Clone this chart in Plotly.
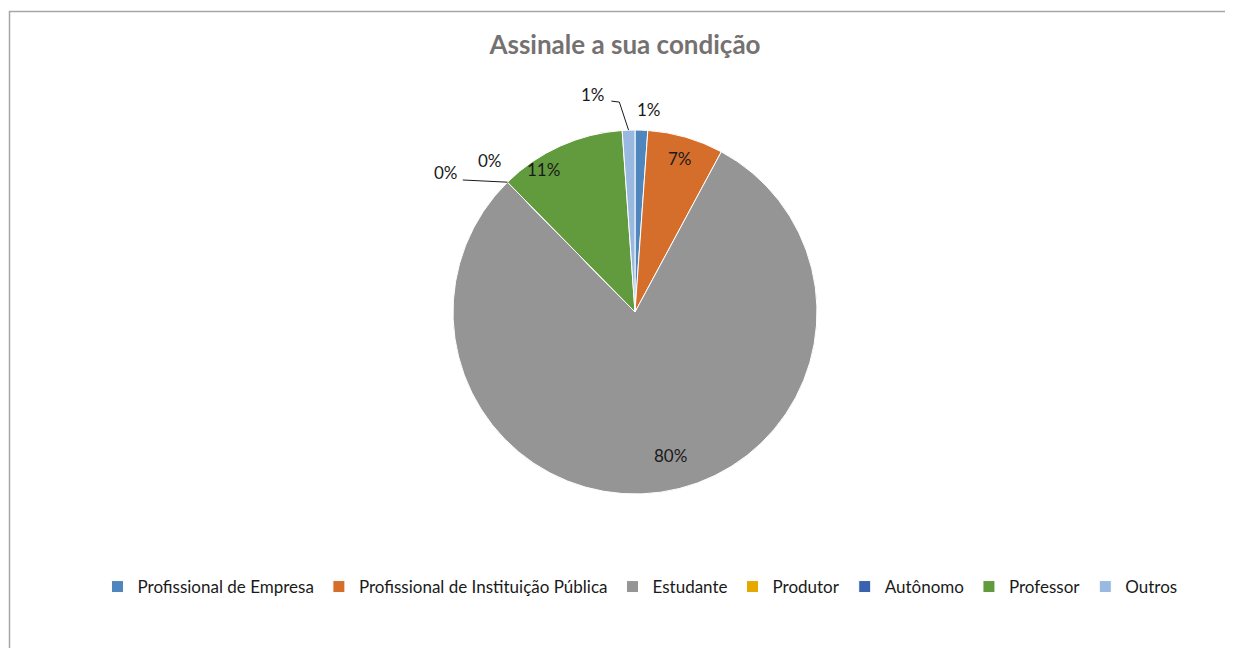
import math
import plotly.graph_objects as go

# ---- data ----
categories = ["Profissional de Empresa", "Profissional de Instituição Pública", "Estudante",
              "Produtor", "Autônomo", "Professor", "Outros"]
counts = [1, 6, 71, 0, 0, 10, 1]
colors = ["#4E86BD", "#D56E2A", "#959595", "#E5A800", "#3A62AE", "#629A3E", "#99B9E0"]
title_text = "Assinale a sua condição"

# label placement styles: (radius factor, angle offset in degrees)
label_style = [(1.115, 1.8), (0.88, 0.0), (0.815, -5.9), (1.29, -9.2), (1.155, 0.7), (0.93, -8.5), (1.219, -8.8)]

W, H = 1233, 648
OX, OY = 8, 8  # page body margin offset
CX, CY, R = 635 - OX, 312 - OY, 182

total = sum(counts)
fracs = [c / total for c in counts]

fig = go.Figure()
fig.add_trace(go.Pie(
    labels=categories, values=counts, sort=False, direction="clockwise", rotation=0,
    marker=dict(colors=colors, line=dict(color="white", width=1)),
    textinfo="none", hoverinfo="label+percent",
    domain=dict(x=[(CX - R) / W, (CX + R) / W], y=[1 - (CY + R) / H, 1 - (CY - R) / H]),
))


def to_paper(px, py):
    return px / W, 1 - py / H


def polar(angle_deg, k):
    a = math.radians(angle_deg)
    return CX + R * k * math.sin(a), CY - R * k * math.cos(a)


FONT = "Lato, Calibri, sans-serif"
annotations = []
shapes = []
cum = 0.0
for i, f in enumerate(fracs):
    start = cum * 360
    cum += f
    end = cum * 360
    mid = (start + end) / 2
    k, off = label_style[i]
    lx, ly = polar(mid + off, k)
    px, py = to_paper(lx, ly)
    annotations.append(dict(x=px, y=py, xref="paper", yref="paper", text=f"{round(f * 100):.0f}%",
                            showarrow=False, font=dict(family=FONT, size=17, color="#1a1a1a"),
                            xanchor="center", yanchor="middle"))
    # leader lines for labels placed away from their slice
    if i == 6:
        ex, ey = polar(mid, 1.0)
        s1 = (lx + 18, ly + 7)
        s2 = (lx + 26, ly + 8)
        p = [to_paper(*s1), to_paper(*s2), to_paper(ex, ey)]
        shapes.append(dict(type="path", xref="paper", yref="paper",
                           path=f"M {p[0][0]} {p[0][1]} L {p[1][0]} {p[1][1]} L {p[2][0]} {p[2][1]}",
                           line=dict(color="#1a1a1a", width=1)))
    if i == 3:
        ex, ey = polar(mid, 1.0)
        s1 = (lx + 17, ly + 7)
        p = [to_paper(*s1), to_paper(ex, ey)]
        shapes.append(dict(type="line", xref="paper", yref="paper", x0=p[0][0], y0=p[0][1],
                           x1=p[1][0], y1=p[1][1], line=dict(color="#1a1a1a", width=1)))

# chart border (partially cropped in the reference)
shapes.append(dict(type="rect", xref="paper", yref="paper", x0=(9.5 - OX) / W, y0=-0.05, x1=1.05,
                   y1=1 - (11.5 - OY) / H,
                   line=dict(color="#A6A6A6", width=1.5), fillcolor="rgba(0,0,0,0)"))

fig.update_layout(
    width=W, height=H, margin=dict(l=0, r=0, t=0, b=0),
    paper_bgcolor="white", plot_bgcolor="white",
    title=dict(text=f"<b>{title_text}</b>", x=(625 - OX) / W, xanchor="center", y=1 - (45 - OY) / H,
               yanchor="middle", font=dict(family=FONT, size=26, color="#757171")),
    showlegend=True,
    legend=dict(orientation="h", x=(640 - OX) / W, xanchor="center", y=1 - (587 - OY) / H, yanchor="middle",
                font=dict(family=FONT, size=17, color="#1a1a1a"),
                itemwidth=30, traceorder="normal"),
    annotations=annotations, shapes=shapes,
)

fig.write_html("out.html")
